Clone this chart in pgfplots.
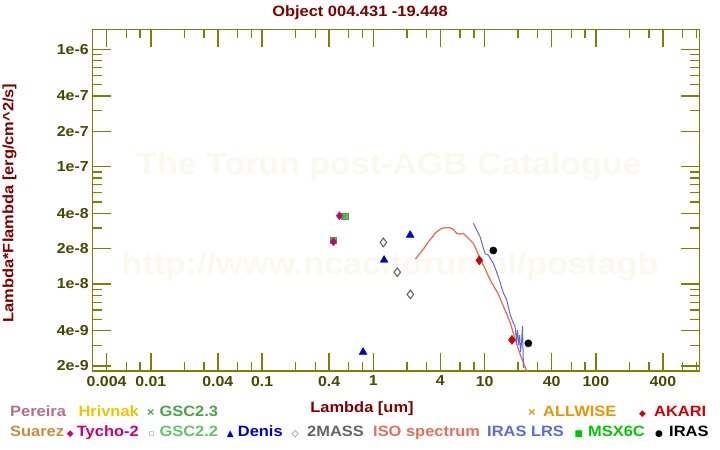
\documentclass[border=0pt]{standalone}
\usepackage{pgfplots}
\pgfplotsset{compat=1.18}
\usepackage{fontspec}
\setmainfont{Liberation Sans}[FakeStretch=1.1]
\newfontfamily\symfont{DejaVu Sans}
\definecolor{titlered}{RGB}{128,0,0}
\definecolor{axolive}{RGB}{128,128,0}
\definecolor{ticklab}{RGB}{72,72,0}
\definecolor{wm}{RGB}{251,248,238}
\definecolor{cpereira}{RGB}{180,110,140}
\definecolor{chrivnak}{RGB}{232,200,0}
\definecolor{cgsc23}{RGB}{70,165,70}
\definecolor{cgsc22}{RGB}{100,195,100}
\definecolor{csuarez}{RGB}{200,140,60}
\definecolor{ctycho}{RGB}{205,0,110}
\definecolor{cdenis}{RGB}{0,0,200}
\definecolor{c2mass}{RGB}{100,100,100}
\definecolor{ciso}{RGB}{228,112,92}
\definecolor{clrs}{RGB}{95,105,215}
\definecolor{cmsx}{RGB}{0,200,0}
\definecolor{callwise}{RGB}{230,150,0}
\definecolor{cakari}{RGB}{210,0,0}
\definecolor{ciras}{RGB}{0,0,0}
\begin{document}
\begin{tikzpicture}[
  lg/.style={anchor=base west, inner sep=0pt, font=\bfseries\fontsize{15}{15}\selectfont},
  sy/.style={anchor=base west, inner sep=0pt, font=\symfont\fontsize{9}{9}\selectfont}]
\path[use as bounding box] (0,0) rectangle (720bp,450bp);
% watermark
\node[anchor=base, inner sep=0pt, text=wm, font=\bfseries\fontsize{31}{31}\selectfont] at (389bp,275bp) {The Torun post-AGB Catalogue};
\node[anchor=base, inner sep=0pt, text=wm, font=\bfseries\fontsize{31}{31}\selectfont] at (390bp,175bp) {http://www.ncac.torun.pl/postagb};
% title
\node[anchor=base, inner sep=0pt, text=titlered, font=\bfseries\fontsize{15}{15}\selectfont] at (360bp,433.3bp) {Object 004.431 -19.448};
\begin{axis}[
  at={(92.7bp,79bp)}, anchor=south west,
  width=606.6bp, height=341.5bp, scale only axis,
  xmode=log, ymode=log,
  xmin=0.003, xmax=850, ymin=1.813e-9, ymax=1.475e-6,
  axis line style={draw=axolive, line width=1.3bp},
  tick style={draw=axolive, line width=1.3bp},
  major tick length=18bp, minor tick length=9bp,
  tick align=inside, xtick pos=both, ytick pos=both,
  xtick={0.004,0.01,0.04,0.1,0.4,1,4,10,40,100,400},
  xticklabels={0.004,0.01,0.04,0.1,0.4,1,4,10,40,100,400},
  minor xtick={0.006,0.008,0.02,0.03,0.06,0.08,0.2,0.3,0.6,0.8,2,3,6,8,20,30,60,80,200,300,600,800},
  ytick={2e-9,4e-9,1e-8,2e-8,4e-8,1e-7,2e-7,4e-7,1e-6},
  yticklabels={2e-9,4e-9,1e-8,2e-8,4e-8,1e-7,2e-7,4e-7,1e-6},
  minor ytick={3e-9,5e-9,6e-9,7e-9,8e-9,9e-9,3e-8,5e-8,6e-8,7e-8,8e-8,9e-8,3e-7,5e-7,6e-7,7e-7,8e-7,9e-7},
  tick label style={font=\bfseries\fontsize{14.5}{14.5}\selectfont, text=ticklab},
  xticklabel style={yshift=-1.5bp},
  yticklabel style={xshift=-0.5bp},
]
% ISO spectrum
\addplot[color=ciso, line width=1.3bp, mark=none] coordinates {
(2.385,1.630e-8) (2.537,1.752e-8) (2.722,1.907e-8) (2.914,2.075e-8) (3.121,2.290e-8)
(3.347,2.476e-8) (3.584,2.699e-8) (3.837,2.862e-8) (4.117,2.979e-8) (4.409,3.014e-8)
(4.889,3.014e-8) (5.234,2.920e-8) (5.616,2.699e-8) (6.012,2.662e-8) (6.438,2.699e-8)
(6.907,2.525e-8) (7.393,2.366e-8) (7.914,2.219e-8) (8.318,2.011e-8) (8.778,1.763e-8)
(9.417,1.546e-8) (10.08,1.358e-8) (10.80,1.168e-8) (11.58,1.024e-8) (12.40,9.173e-9)
(13.28,8.200e-9) (13.75,7.581e-9) (15.25,5.989e-9) (16.92,4.733e-9) (18.56,3.526e-9)
(19.96,2.841e-9) (21.45,2.335e-9) (23.89,1.809e-9) (25.06,1.516e-9)};
% IRAS LRS
\addplot[color=clrs, line width=1bp, mark=none] coordinates {
(7.92,3.29e-8) (9.09,2.53e-8) (10.08,1.82e-8) (10.80,1.76e-8) (11.97,1.50e-8)
(12.85,1.26e-8) (13.75,1.04e-8) (14.63,8.53e-9) (15.80,7.29e-9) (16.92,5.54e-9)
(18.11,4.64e-9) (18.76,4.38e-9) (19.35,3.32e-9) (19.75,4.04e-9) (20.16,3.01e-9)
(20.59,3.67e-9) (21.02,2.63e-9) (21.45,3.20e-9) (21.90,4.38e-9) (22.13,2.73e-9)
(22.36,1.92e-9)};
% GSC2.2
\addplot[only marks, mark=square*, mark size=3.3bp, draw=cgsc23, fill=cgsc22] coordinates {
(0.549,3.77e-8) (0.437,2.37e-8)};
% GSC2.3
\addplot[only marks, mark=x, mark size=3bp, draw=cgsc23, line width=1bp] coordinates {
(0.549,3.77e-8) (0.437,2.33e-8)};
% Tycho-2
\addplot[only marks, mark=diamond*, mark size=4bp, draw=ctycho, fill=ctycho] coordinates {
(0.495,3.81e-8) (0.437,2.29e-8)};
% Denis
\addplot[only marks, mark=triangle*, mark size=4.5bp, draw=cdenis, fill=cdenis] coordinates {
(0.808,2.63e-9) (1.248,1.60e-8) (2.14,2.61e-8)};
% 2MASS
\addplot[only marks, mark=diamond, mark size=4.3bp, draw=c2mass, line width=1.1bp] coordinates {
(1.23,2.26e-8) (1.64,1.26e-8) (2.15,8.15e-9)};
% AKARI
\addplot[only marks, mark=diamond*, mark size=4.6bp, draw=cakari, fill=cakari] coordinates {
(8.96,1.59e-8) (17.6,3.34e-9)};
% IRAS
\addplot[only marks, mark=*, mark size=3.6bp, draw=ciras, fill=ciras] coordinates {
(11.97,1.93e-8) (24.7,3.12e-9)};
\end{axis}
% axis labels
\node[anchor=base, inner sep=0pt, text=titlered, font=\bfseries\fontsize{15}{15}\selectfont] at (362bp,38bp) {Lambda [um]};
\node[rotate=90, anchor=center, inner sep=0pt, text=titlered, font=\bfseries\fontsize{15}{15}\selectfont] at (9.5bp,247bp) {Lambda*Flambda [erg/cm\textasciicircum 2/s]};
% legend row 1
\node[lg, text=cpereira] at (10bp,34bp) {Pereira};
\node[lg, text=chrivnak] at (78.3bp,34bp) {Hrivnak};
\node[sy, text=cgsc23, font=\bfseries\fontsize{12}{12}\selectfont] at (146.7bp,34bp) {×};
\node[lg, text=cgsc23] at (159.3bp,34bp) {GSC2.3};
\node[sy, text=callwise, font=\bfseries\fontsize{12}{12}\selectfont] at (528bp,34bp) {×};
\node[lg, text=callwise] at (543bp,34bp) {ALLWISE};
\node[sy, text=cakari] at (639bp,34bp) {◆};
\node[lg, text=cakari] at (654bp,34bp) {AKARI};
% legend row 2
\node[lg, text=csuarez] at (10bp,14bp) {Suarez};
\node[sy, text=ctycho] at (66.7bp,14bp) {◆};
\node[lg, text=ctycho] at (76.7bp,14bp) {Tycho-2};
\node[sy, text=cgsc22] at (148.5bp,14bp) {▫};
\node[lg, text=cgsc22] at (159.3bp,14bp) {GSC2.2};
\node[sy, text=cdenis] at (226.7bp,14bp) {▲};
\node[lg, text=cdenis] at (237.7bp,14bp) {Denis};
\node[sy, text=c2mass] at (291.7bp,14bp) {◇};
\node[lg, text=c2mass] at (307bp,14bp) {2MASS};
\node[lg, text=ciso] at (373bp,14bp) {ISO spectrum};
\node[lg, text=clrs] at (487bp,14bp) {IRAS LRS};
\node[sy, text=cmsx] at (574.5bp,14bp) {■};
\node[lg, text=cmsx] at (588bp,14bp) {MSX6C};
\node[sy, text=ciras] at (655bp,14bp) {●};
\node[lg, text=ciras] at (669bp,14bp) {IRAS};
\end{tikzpicture}
\end{document}
